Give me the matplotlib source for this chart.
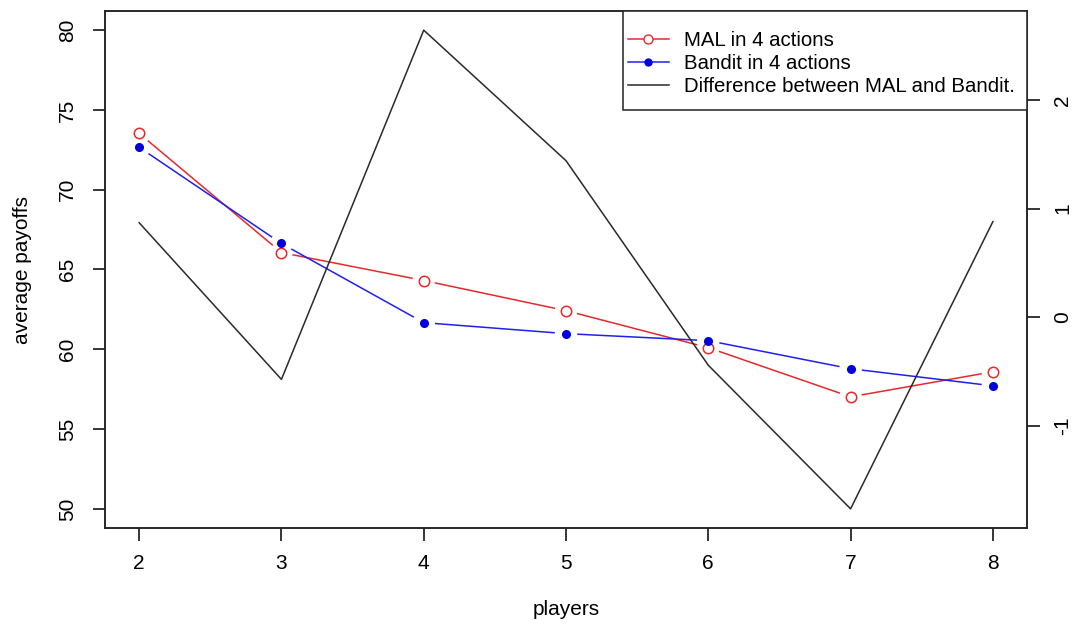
"""
plot.py
-------
Average payoffs of MAL vs Bandit (4 actions) over number of players,
with the difference on a secondary axis. R base-graphics look.
"""
import numpy as np
import matplotlib
matplotlib.use("Agg")
import matplotlib.pyplot as plt
from matplotlib.lines import Line2D
from matplotlib.patches import Rectangle

# ── data ────────────────────────────────────────────────────────────────────
players = [2, 3, 4, 5, 6, 7, 8]
mal     = [73.53, 66.06, 64.31, 62.42, 60.10, 57.02, 58.59]
bandit  = [72.66, 66.63, 61.67, 60.98, 60.54, 58.78, 57.71]
diff    = np.array(mal) - np.array(bandit)

left_ticks  = [50, 55, 60, 65, 70, 75, 80]
right_ticks = [-1, 0, 1, 2]

plt.rcParams["font.family"] = ["Liberation Sans", "DejaVu Sans"]
FS = 15

RED, BLUE, DARK = "#e8282b", "#2020ee", "#2a2a2a"


def r_range(lo, hi):
    # R's default 4 % axis extension
    pad = (hi - lo) * 0.04
    return lo - pad, hi + pad


def gapped_line(ax, x, y, gap_px, **kw):
    # type="b": line segments stop short of each point
    pts = ax.transData.transform(np.column_stack([x, y]))
    inv = ax.transData.inverted()
    for p0, p1 in zip(pts[:-1], pts[1:]):
        d = p1 - p0
        u = d / np.hypot(*d)
        seg = inv.transform([p0 + u * gap_px, p1 - u * gap_px])
        ax.plot(seg[:, 0], seg[:, 1], **kw)


fig = plt.figure(figsize=(10.77, 6.25), dpi=100)
ax = fig.add_axes([0.0975, 0.1552, 0.8561, 0.8272])

ax.set_xlim(*r_range(min(players), max(players)))
ax.set_ylim(*r_range(50, 80))
ax2 = ax.twinx()
ax2.set_ylim(*r_range(diff.min(), diff.max()))
ax2.set_xlim(ax.get_xlim())

# ── series ──────────────────────────────────────────────────────────────────
gapped_line(ax, players, mal, 12, color=RED, lw=1.1)
ax.plot(players, mal, ls="none", marker="o", ms=7.5, mfc="white",
        mec=RED, mew=1.1)

gapped_line(ax, players, bandit, 12, color=BLUE, lw=1.1)
ax.plot(players, bandit, ls="none", marker="o", ms=5.5, mfc="#0000dd",
        mec="#0000dd")

ax2.plot(players, diff, color=DARK, lw=1.1)

# ── axes styling ────────────────────────────────────────────────────────────
for a in (ax, ax2):
    for s in a.spines.values():
        s.set_linewidth(1.1)
        s.set_color("#222222")

ax.set_xticks(players)
ax.set_yticks(left_ticks)
ax.set_yticklabels([str(t) for t in left_ticks], rotation=90, va="center")
ax2.set_yticks(right_ticks)
ax2.set_yticklabels([str(t) for t in right_ticks], rotation=90, va="center")

ax.tick_params(axis="x", direction="out", length=9, width=1.1, pad=10,
               labelsize=FS)
ax.tick_params(axis="y", direction="out", length=9, width=1.1, pad=11,
               labelsize=FS)
ax2.tick_params(axis="y", direction="out", length=9, width=1.1, pad=10,
                labelsize=FS)

ax.set_xlabel("players", fontsize=FS, labelpad=19)
ax.set_ylabel("average payoffs", fontsize=FS, labelpad=19)

# ── legend (R-style box, tight left padding) ────────────────────────────────
ax2.add_patch(Rectangle((0.5618, 0.8085), 0.4382, 0.1915,
                        transform=ax2.transAxes, fill=True, fc="white",
                        ec="#222222", lw=1.1, zorder=5))
handles = [
    Line2D([], [], color=RED, lw=1.1, marker="o", ms=6.5,
           mfc="white", mec=RED),
    Line2D([], [], color=BLUE, lw=1.1, marker="o", ms=5,
           mfc="#0000dd", mec="#0000dd"),
    Line2D([], [], color=DARK, lw=1.1),
]
labels = ["MAL in 4 actions", "Bandit in 4 actions",
          "Difference between MAL and Bandit."]
leg = ax2.legend(handles, labels, loc="upper left",
                 bbox_to_anchor=(0.5672, 0.962), borderaxespad=0,
                 borderpad=0, frameon=False, fontsize=14.7, handlelength=2.0,
                 handletextpad=0.75, labelspacing=0.2)
leg.set_zorder(6)

fig.savefig("out.png", dpi=100)
